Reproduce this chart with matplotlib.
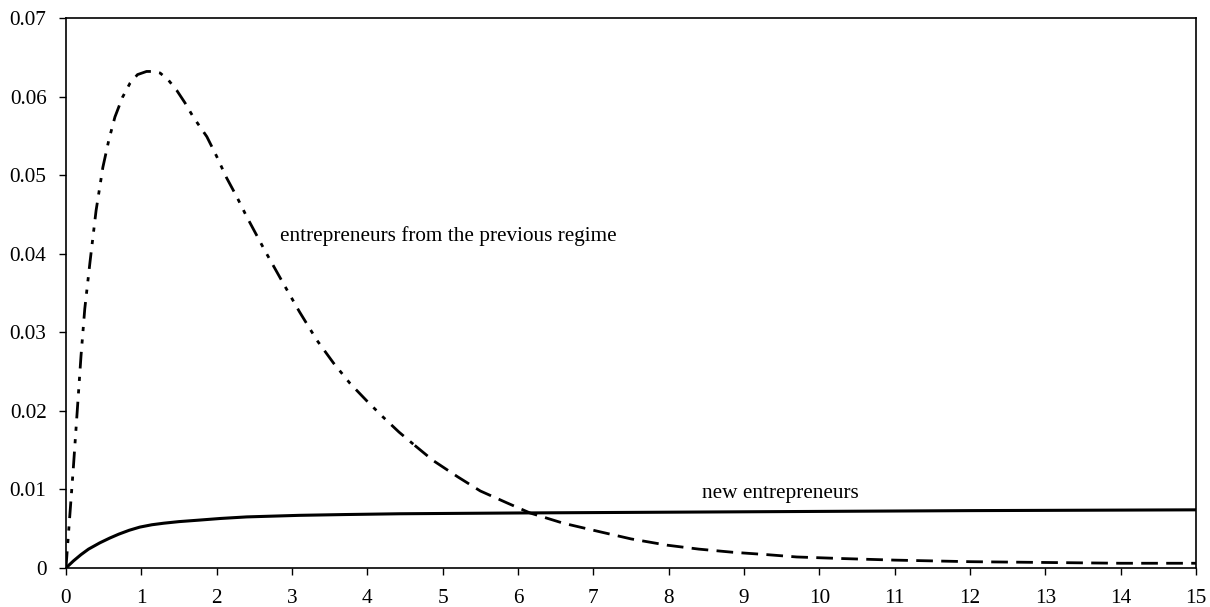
import matplotlib
matplotlib.use("Agg")
import matplotlib.pyplot as plt

# Data
prev_x = [0, 0.05, 0.1, 0.15, 0.2, 0.25, 0.32, 0.4, 0.49, 0.57, 0.65, 0.75, 0.85, 0.95, 1.07,
          1.16, 1.25, 1.36, 1.47, 1.58, 1.69, 1.87, 2.0, 2.13, 2.27, 2.4, 2.64, 2.88, 3.1,
          3.33, 3.55, 3.77, 4.0, 4.21, 4.42, 4.63]
prev_y = [0, 0.0065, 0.013, 0.020, 0.027, 0.033, 0.039, 0.0455, 0.051, 0.0545, 0.0574, 0.0599,
          0.0617, 0.0628, 0.0632, 0.0632, 0.063, 0.0621, 0.0608, 0.0592, 0.0574, 0.0549, 0.0524,
          0.0497, 0.0472, 0.0447, 0.0404, 0.0363, 0.0326, 0.029, 0.0261, 0.0235, 0.0212,
          0.0192, 0.0173, 0.0156]
prev_tail_x = [4.63, 4.87, 5.2, 5.5, 5.85, 6.16, 6.6, 7.09, 7.5, 7.98, 8.4, 8.85, 9.3, 9.7,
               10.3, 11, 12, 13, 14, 15]
prev_tail_y = [0.0156, 0.0137, 0.0116, 0.0098, 0.0083, 0.007, 0.0057, 0.0046, 0.0037, 0.0029,
               0.0024, 0.002, 0.0017, 0.0014, 0.0012, 0.001, 0.0008, 0.0007, 0.0006, 0.0006]

new_x = [0, 0.1, 0.2, 0.3, 0.45, 0.58, 0.7, 0.84, 0.98, 1.14, 1.3, 1.5, 1.78, 2.05, 2.4,
         2.75, 3.1, 3.7, 4.43, 5.2, 6, 8, 10, 12, 15]
new_y = [0, 0.0009, 0.0017, 0.0024, 0.0032, 0.0038, 0.0043, 0.0048, 0.0052, 0.0055, 0.0057,
         0.0059, 0.0061, 0.0063, 0.0065, 0.0066, 0.0067, 0.0068, 0.0069, 0.00695, 0.007,
         0.0071, 0.0072, 0.0073, 0.0074]

x_ticks = list(range(0, 16))
y_ticks = [0, 0.01, 0.02, 0.03, 0.04, 0.05, 0.06, 0.07]
y_labels = ["0", "0.01", "0.02", "0.03", "0.04", "0.05", "0.06", "0.07"]

plt.rcParams['font.family'] = ['Liberation Serif', 'DejaVu Serif']

fig = plt.figure(figsize=(12.1, 6.07), dpi=100)
ax = fig.add_axes([0.0545, 0.0643, 0.934, 0.906])

ax.plot(prev_x, prev_y, color='black', lw=2, dashes=(6, 3, 1.5, 3, 1.5, 3))
ax.plot(prev_tail_x, prev_tail_y, color='black', lw=2, dashes=(6, 3))
ax.plot(new_x, new_y, color='black', lw=2.2, solid_capstyle='butt')

ax.text(2.84, 0.0422, "entrepreneurs from the previous regime", fontsize=15.3,
        va='center', ha='left')
ax.text(9.48, 0.0095, "new entrepreneurs", fontsize=15.3, va='center', ha='center')

ax.set_xlim(0, 15)
ax.set_ylim(0, 0.07)
ax.set_xticks(x_ticks)
ax.set_xticklabels([str(t) for t in x_ticks])
ax.set_yticks(y_ticks)
ax.set_yticklabels(y_labels)
ax.tick_params(axis='both', direction='out', length=5, width=1, labelsize=15.3)
ax.tick_params(axis='x', pad=10)
ax.tick_params(axis='y', pad=9)
for s in ax.spines.values():
    s.set_linewidth(1.2)
    s.set_color('black')

fig.savefig("out.png", dpi=100)
